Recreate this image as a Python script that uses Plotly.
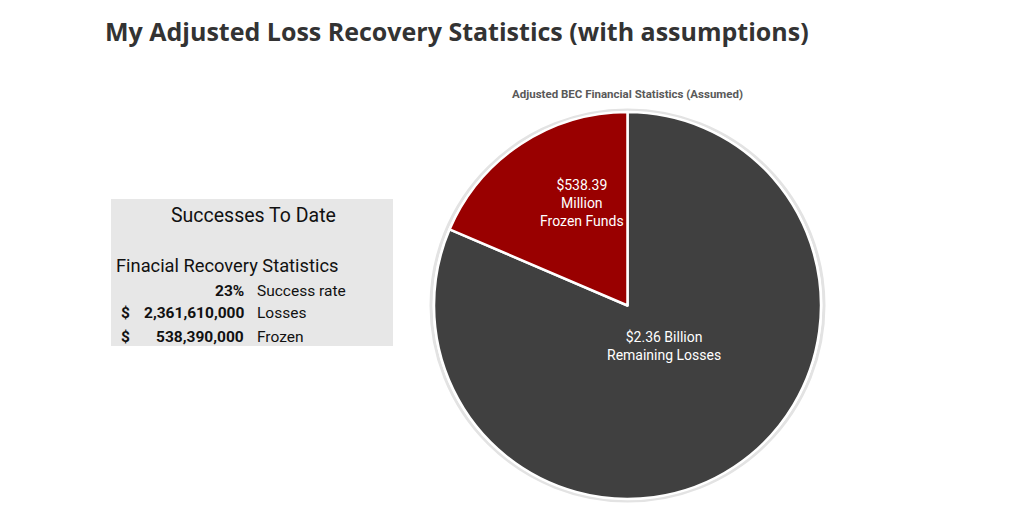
import plotly.graph_objects as go

# pie data
slice_names = ["Remaining Losses", "Frozen Funds"]
slice_values = [2361.61, 538.39]  # millions
slice_text = ["$2.36 Billion<br>Remaining Losses", "$538.39<br>Million<br>Frozen Funds"]
slice_colors = ["#404040", "#990000"]
label_pos = [(664, 346), (582, 203)]  # where the slice labels sit (px)

# side table
row_symbols = ["", "$", "$"]
row_values = ["23%", "2,361,610,000", "538,390,000"]
row_labels = ["Success rate", "Losses", "Frozen"]

W, H = 1013, 527
OFF = 8  # page body offset

def px_x(x):
    return (x - OFF) / W

def px_y(y):
    return 1 - (y - OFF) / H

fig = go.Figure()
fig.add_trace(go.Pie(
    labels=slice_names, values=slice_values,
    textinfo="none", sort=False, direction="clockwise", rotation=0,
    marker=dict(colors=slice_colors, line=dict(color="white", width=2.5)),
    domain=dict(x=[px_x(433), px_x(822)], y=[px_y(499), px_y(112)]),
    showlegend=False, hoverinfo="label+value",
))

shapes = [
    # soft shadow ring behind the pie
    dict(type="circle", xref="paper", yref="paper", layer="below",
         x0=px_x(431), x1=px_x(824), y0=px_y(501), y1=px_y(110),
         line=dict(color="#e3e3e3", width=3), fillcolor="white"),
    # grey table box
    dict(type="rect", xref="paper", yref="paper", layer="below",
         x0=px_x(111), x1=px_x(393), y0=px_y(346), y1=px_y(199),
         line=dict(width=0), fillcolor="#e7e7e7"),
]

ann = []
for txt, (lx, ly) in zip(slice_text, label_pos):
    ann.append(dict(text=txt, x=px_x(lx), y=px_y(ly), xanchor="center", yanchor="middle",
                    font=dict(family="Roboto", size=14, color="white")))
ann.append(dict(text="<b>My Adjusted Loss Recovery Statistics (with assumptions)</b>",
                x=px_x(103), y=px_y(31), xanchor="left", yanchor="middle",
                font=dict(family="Open Sans", size=25, color="#333333")))
ann.append(dict(text="<b>Adjusted BEC Financial Statistics (Assumed)</b>",
                x=px_x(627), y=px_y(94), xanchor="center", yanchor="middle",
                font=dict(family="Roboto", size=11.5, color="#595959")))
ann.append(dict(text="Successes To Date", x=px_x(253), y=px_y(215),
                xanchor="center", yanchor="middle",
                font=dict(family="Roboto", size=19.5, color="#111111")))
ann.append(dict(text="Finacial Recovery Statistics", x=px_x(114), y=px_y(266),
                xanchor="left", yanchor="middle",
                font=dict(family="Roboto", size=18.3, color="#111111")))

row_y = [291, 313, 337]
for sym, val, lab, yy in zip(row_symbols, row_values, row_labels, row_y):
    if sym:
        ann.append(dict(text="<b>" + sym + "</b>", x=px_x(119), y=px_y(yy),
                        xanchor="left", yanchor="middle",
                        font=dict(family="Roboto", size=15.5, color="#111111")))
    ann.append(dict(text="<b>" + val + "</b>", x=px_x(246), y=px_y(yy),
                    xanchor="right", yanchor="middle",
                    font=dict(family="Roboto", size=15.5, color="#111111")))
    ann.append(dict(text=lab, x=px_x(255), y=px_y(yy),
                    xanchor="left", yanchor="middle",
                    font=dict(family="Roboto", size=15.5, color="#111111")))

for a in ann:
    a.update(xref="paper", yref="paper", showarrow=False)

fig.update_layout(
    width=W, height=H,
    margin=dict(l=0, r=0, t=0, b=0),
    paper_bgcolor="white", plot_bgcolor="white",
    shapes=shapes, annotations=ann,
)

fig.write_html("out.html")
